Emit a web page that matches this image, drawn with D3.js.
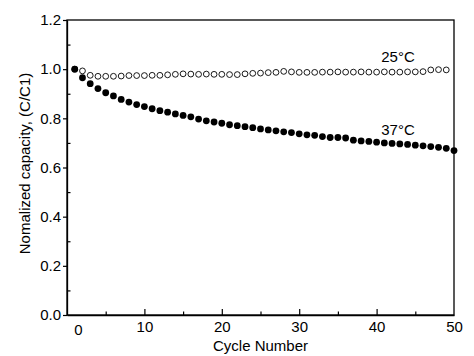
<!DOCTYPE html>
<html><head><meta charset="utf-8">
<script src="https://cdn.jsdelivr.net/npm/d3@7"></script>
<style>
html,body{margin:0;padding:0;background:#fff;}
text{font-family:"Liberation Sans",Arial,sans-serif;fill:#000;}
</style></head>
<body>
<svg id="chart" width="474" height="356"></svg>
<script>
// Data
const cycles37 = [1,2,3,4,5,6,7,8,9,10,11,12,13,14,15,16,17,18,19,20,21,22,23,24,25,26,27,28,29,30,31,32,33,34,35,36,37,38,39,40,41,42,43,44,45,46,47,48,49,50];
const cap37 = [1.000,0.965,0.941,0.921,0.904,0.891,0.877,0.866,0.856,0.848,0.839,0.831,0.825,0.818,0.812,0.806,0.797,0.790,0.785,0.780,0.774,0.770,0.766,0.762,0.757,0.753,0.749,0.745,0.742,0.737,0.733,0.731,0.726,0.722,0.722,0.720,0.711,0.708,0.706,0.703,0.700,0.698,0.696,0.694,0.691,0.688,0.685,0.682,0.678,0.669];
const cycles25 = [1,2,3,4,5,6,7,8,9,10,11,12,13,14,15,16,17,18,19,20,21,22,23,24,25,26,27,28,29,30,31,32,33,34,35,36,37,38,39,40,41,42,43,44,45,46,47,48,49];
const cap25 = [1.000,0.993,0.975,0.971,0.971,0.971,0.972,0.974,0.974,0.974,0.975,0.975,0.977,0.979,0.981,0.980,0.979,0.980,0.979,0.979,0.978,0.978,0.981,0.983,0.984,0.986,0.987,0.991,0.989,0.987,0.987,0.987,0.988,0.988,0.989,0.988,0.988,0.989,0.988,0.988,0.989,0.988,0.988,0.989,0.989,0.990,0.997,0.998,0.997];
const xTicks = [0,10,20,30,40,50];
const xMinorTicks = [5,15,25,35,45];
const yTicks = [0.0,0.2,0.4,0.6,0.8,1.0,1.2];
const yMinorTicks = [0.1,0.3,0.5,0.7,0.9,1.1];
const seriesLabels = [{text:"25°C", x:40.6, y:1.029},{text:"37°C", x:40.6, y:0.732}];
const xTitle = "Cycle Number";
const yTitle = "Nomalized capacity, (C/C1)";

const svg = d3.select("#chart");
const L=67, R=454, T=20, B=315;
const x = d3.scaleLinear().domain([0,50]).range([L,R]);
const y = d3.scaleLinear().domain([0,1.2]).range([B,T]);

// frame
svg.append("rect").attr("x",L).attr("y",T).attr("width",R-L).attr("height",B-T)
  .attr("fill","none").attr("stroke","#000").attr("stroke-width",1.3);

// x axis major ticks (inward)
const gx = svg.append("g").attr("transform",`translate(0,${B})`)
  .call(d3.axisBottom(x).tickValues(xTicks).tickSizeInner(-6).tickSizeOuter(0).tickPadding(6).tickFormat(d3.format("d")));
gx.select(".domain").attr("stroke-width",1.3);
gx.selectAll(".tick line").attr("stroke-width",1.2);
gx.selectAll(".tick text").attr("font-size",15).attr("font-family","Liberation Sans, Arial, sans-serif").attr("fill","#000")
  .attr("dy","0.71em");
gx.selectAll(".tick").filter(d=>d===0).select("text").attr("dx",11).attr("dy","0.95em");
gx.selectAll(".tick").filter(d=>d===0||d===50).select("line").remove();
// x minor ticks
const gxm = svg.append("g").attr("transform",`translate(0,${B})`)
  .call(d3.axisBottom(x).tickValues(xMinorTicks).tickSizeInner(-3.5).tickSizeOuter(0).tickFormat(""));
gxm.select(".domain").remove();
gxm.selectAll(".tick line").attr("stroke-width",1.2);

// y axis major ticks (outward)
const gy = svg.append("g").attr("transform",`translate(${L},0)`)
  .call(d3.axisLeft(y).tickValues(yTicks).tickSizeInner(4).tickSizeOuter(0).tickPadding(2).tickFormat(d3.format(".1f")));
gy.select(".domain").attr("stroke-width",1.3);
gy.selectAll(".tick line").attr("stroke-width",1.2);
gy.selectAll(".tick text").attr("font-size",15).attr("font-family","Liberation Sans, Arial, sans-serif").attr("fill","#000");
// y minor ticks (inward)
const gym = svg.append("g").attr("transform",`translate(${L},0)`)
  .call(d3.axisLeft(y).tickValues(yMinorTicks).tickSizeInner(-3.5).tickSizeOuter(0).tickFormat(""));
gym.select(".domain").remove();
gym.selectAll(".tick line").attr("stroke-width",1.2);

// titles
svg.append("text").attr("x",(L+R)/2).attr("y",351).attr("text-anchor","middle")
  .attr("font-size",15).text(xTitle);
svg.append("text").attr("transform",`translate(30,${(T+B)/2-4}) rotate(-90)`).attr("text-anchor","middle")
  .attr("font-size",15).text(yTitle);

// series 25°C (open)
svg.append("g").selectAll("circle").data(cycles25.map((c,i)=>[c,cap25[i]])).join("circle")
  .attr("cx",d=>x(d[0])).attr("cy",d=>y(d[1])).attr("r",2.9)
  .attr("fill","#fff").attr("stroke","#000").attr("stroke-width",0.9);
// series 37°C (filled)
svg.append("g").selectAll("circle").data(cycles37.map((c,i)=>[c,cap37[i]])).join("circle")
  .attr("cx",d=>x(d[0])).attr("cy",d=>y(d[1])).attr("r",3.4).attr("fill","#000");

// labels
svg.append("g").selectAll("text").data(seriesLabels).join("text")
  .attr("x",d=>x(d.x)).attr("y",d=>y(d.y)).attr("font-size",15).text(d=>d.text);
</script>
</body></html>
